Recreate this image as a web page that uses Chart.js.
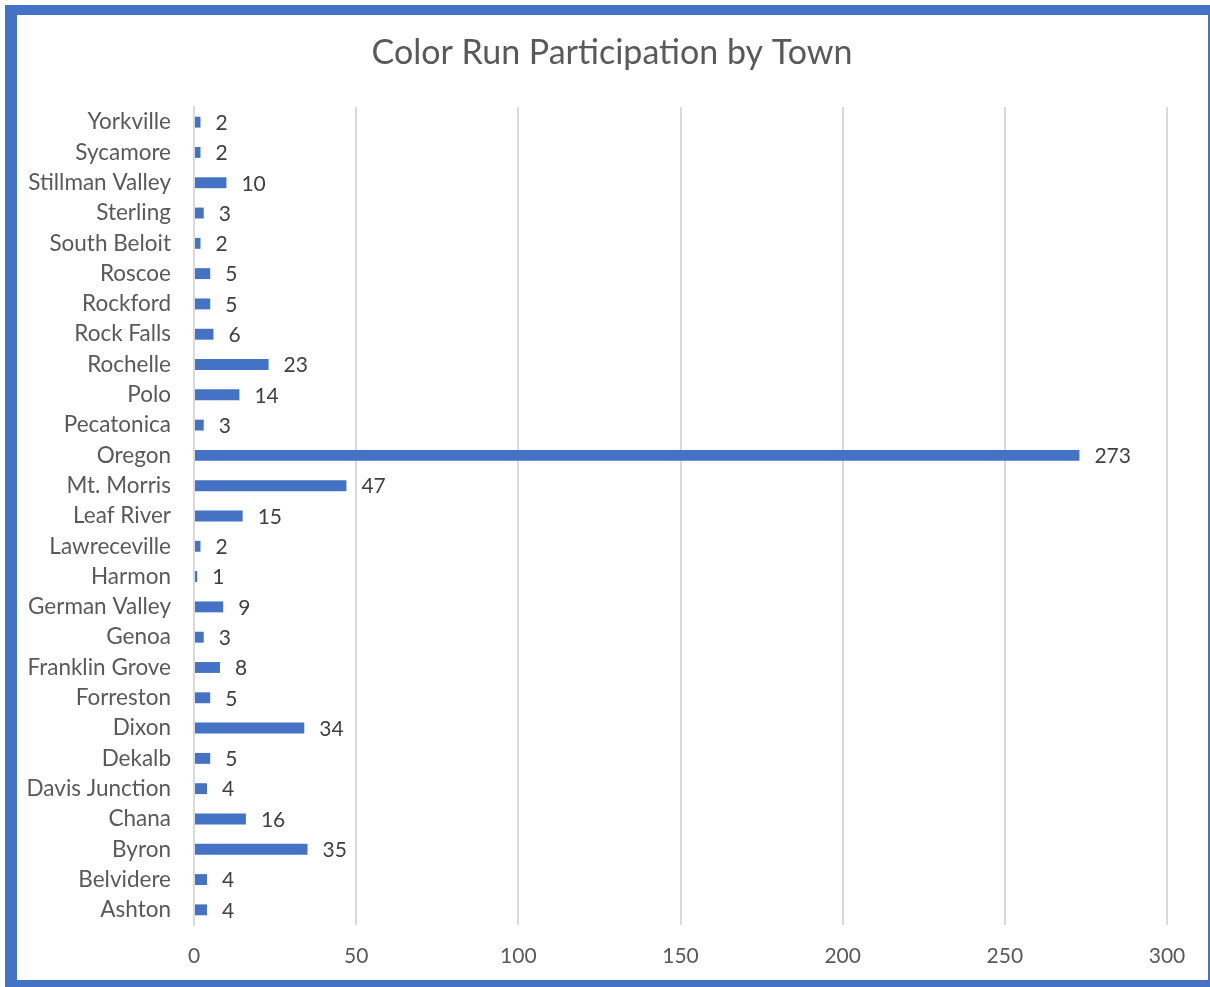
<!DOCTYPE html>
<html>
<head>
<meta charset="utf-8">
<script src="https://cdn.jsdelivr.net/npm/chart.js@4"></script>
<style>
  html, body { margin: 0; padding: 0; background: #ffffff; }
  #frame { position: absolute; left: 5px; top: 5px; width: 1205px; height: 982px; background: #4472C4; }
  #inner { position: absolute; left: 12px; top: 10px; width: 1191px; height: 965px; background: #ffffff; }
  #wrap { position: absolute; left: 0; top: 0; width: 1210px; height: 987px; }
</style>
</head>
<body>
<div id="frame"><div id="inner"></div></div>
<div id="wrap"><canvas id="c" width="1210" height="987"></canvas></div>
<script>
const towns = ["Ashton","Belvidere","Byron","Chana","Davis Junction","Dekalb","Dixon","Forreston","Franklin Grove","Genoa","German Valley","Harmon","Lawreceville","Leaf River","Mt. Morris","Oregon","Pecatonica","Polo","Rochelle","Rock Falls","Rockford","Roscoe","South Beloit","Sterling","Stillman Valley","Sycamore","Yorkville"];
const participants = [4,4,35,16,4,5,34,5,8,3,9,1,2,15,47,273,3,14,23,6,5,5,2,3,10,2,2];
const xTicks = [0,50,100,150,200,250,300];
const chartTitle = 'Color Run Participation by Town';

const FONT = "Lato, 'Open Sans', sans-serif";

const valueLabels = {
  id: 'valueLabels',
  afterDatasetsDraw(chart) {
    const ctx = chart.ctx;
    const meta = chart.getDatasetMeta(0);
    ctx.save();
    ctx.font = "21px " + FONT;
    ctx.fillStyle = "#404040";
    ctx.textAlign = "left";
    ctx.textBaseline = "middle";
    meta.data.forEach((bar, i) => {
      ctx.fillText(String(participants[i]), bar.x + 15, bar.y + 1);
    });
    ctx.restore();
  }
};

const titlePlugin = {
  id: 'titlePlugin',
  afterDraw(chart) {
    const ctx = chart.ctx;
    ctx.save();
    ctx.font = "34px " + FONT;
    ctx.fillStyle = "#595959";
    ctx.textAlign = "center";
    ctx.textBaseline = "middle";
    ctx.fillText(chartTitle, 612, 53);
    ctx.restore();
  }
};

new Chart(document.getElementById('c'), {
  type: 'bar',
  data: {
    labels: towns,
    datasets: [{
      data: participants,
      backgroundColor: '#4472C4',
      borderWidth: 0,
      barPercentage: 0.72,
      categoryPercentage: 0.5
    }]
  },
  options: {
    indexAxis: 'y',
    responsive: false,
    animation: false,
    devicePixelRatio: 1,
    layout: { padding: { left: 17, right: 43, top: 107, bottom: 0 } },
    plugins: {
      legend: { display: false },
      tooltip: { enabled: false },
      title: { display: false }
    },
    scales: {
      x: {
        type: 'linear',
        min: 0,
        max: 300,
        afterBuildTicks(scale) { scale.ticks = xTicks.map(v => ({ value: v })); },
        afterFit(scale) { scale.height = 62; },
        grid: { color: '#d9d9d9', lineWidth: 2, drawTicks: false },
        border: { display: false },
        ticks: { color: '#595959', font: { family: FONT, size: 21 }, padding: 19 }
      },
      y: {
        reverse: true,
        grid: { display: false, drawTicks: false },
        border: { display: true, color: '#d9d9d9', width: 2 },
        afterFit(scale) { scale.width = 177; },
        ticks: { color: '#595959', font: { family: FONT, size: 22.5 }, padding: 23, autoSkip: false }
      }
    }
  },
  plugins: [valueLabels, titlePlugin]
});
</script>
</body>
</html>
